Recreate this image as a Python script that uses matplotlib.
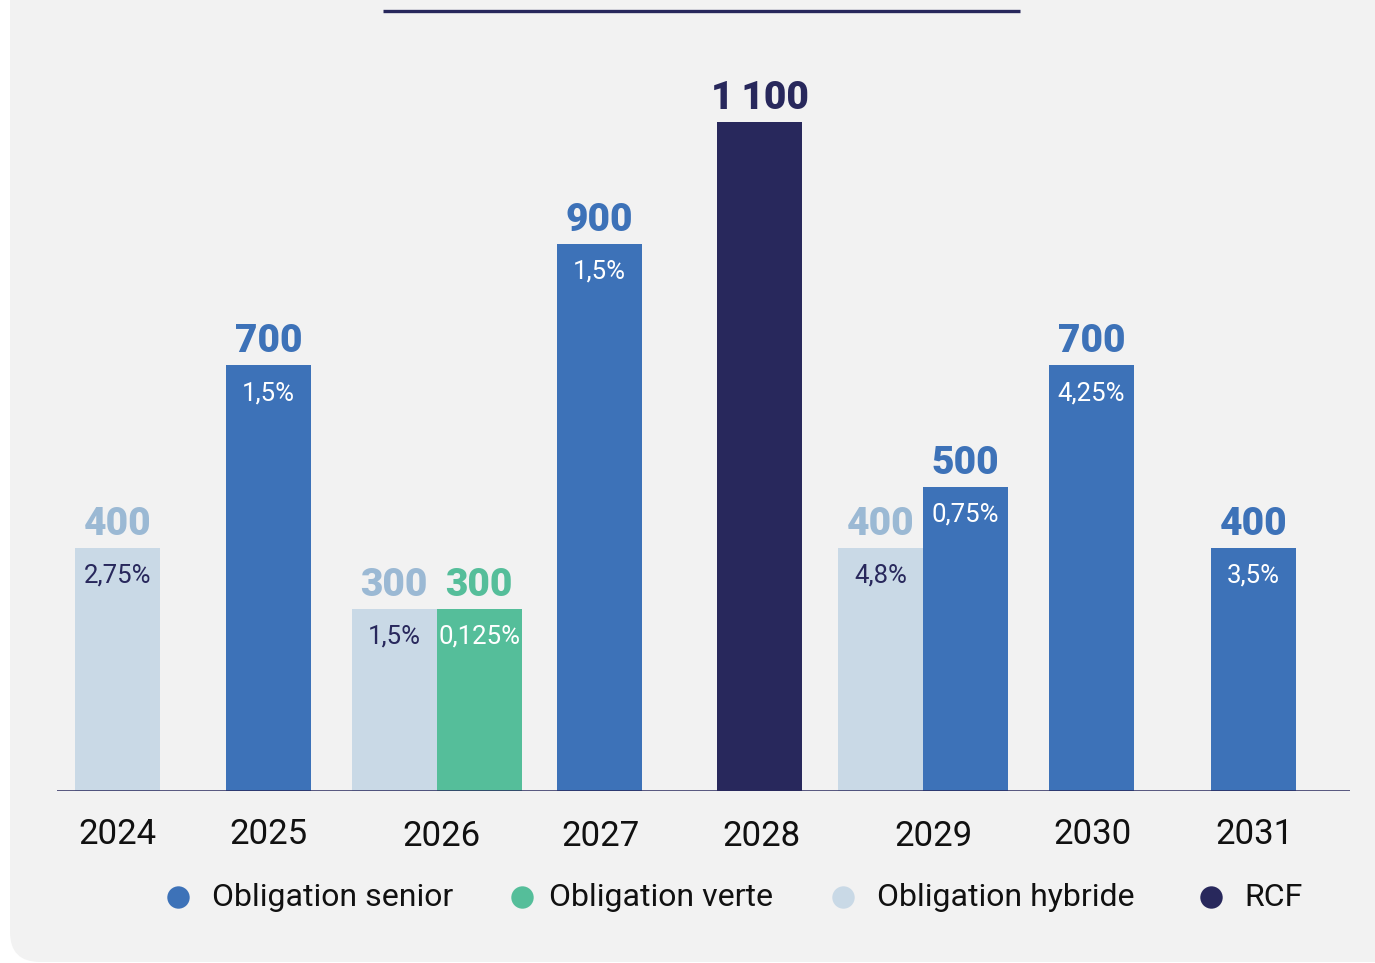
import matplotlib.pyplot as plt
from matplotlib.patches import FancyBboxPatch

# data (millions d'euros) by maturity year
years = ['2024', '2025', '2026', '2027', '2028', '2029', '2030', '2031']
hybride = [400, 0, 300, 0, 0, 400, 0, 0]
senior = [0, 700, 0, 900, 0, 500, 700, 400]
verte = [0, 0, 300, 0, 0, 0, 0, 0]
rcf = [0, 0, 0, 0, 1100, 0, 0, 0]
hybride_rate = ['2,75%', '', '1,5%', '', '', '4,8%', '', '']
senior_rate = ['', '1,5%', '', '1,5%', '', '0,75%', '4,25%', '3,5%']
verte_rate = ['', '', '0,125%', '', '', '', '', '']
rcf_rate = ['', '', '', '', '', '', '', '']
legend_labels = ['Obligation senior', 'Obligation verte', 'Obligation hybride', 'RCF']

# colours
C_SENIOR = '#3d72b8'
C_VERTE = '#55be9a'
C_HYBRIDE = '#c9d9e6'
C_HYB_TXT = '#9bb9d4'
C_RCF = '#28285c'
BG = '#f2f2f2'

# layout (pixel positions)
W, H = 1375, 963
year_center = [117.5, 268.5, 436.5, 599.5, 759.5, 923, 1091.5, 1253.5]
year_label_x = [117, 268, 441, 601, 761, 933, 1093, 1254]
year_label_y = [834, 834, 837, 837, 837, 837, 835, 835]
bar_w = 85
base_px = 791
px_per_unit = 669 / 1100

font = ['Roboto', 'DejaVu Sans']

fig = plt.figure(figsize=(W / 100, H / 100), dpi=100)
fig.patch.set_facecolor('white')

# background panel + decorations, in pixel coords
bg = fig.add_axes([0, 0, 1, 1], zorder=0)
bg.set_xlim(0, W)
bg.set_ylim(H, 0)
bg.axis('off')
bg.add_patch(FancyBboxPatch((10, -100), W + 100, H + 100 - 1,
                            boxstyle='round,pad=0,rounding_size=30',
                            fc=BG, ec='none'))
bg.plot([383, 1020], [11, 11], color=C_RCF, lw=2.4, solid_capstyle='butt')

# main chart axes
top_px = base_px - 1200 * px_per_unit
ax = fig.add_axes([57 / W, (H - base_px) / H, (1350 - 57) / W, (base_px - top_px) / H], zorder=1)
ax.patch.set_alpha(0)
ax.set_xlim(57, 1350)
ax.set_ylim(0, 1200)
for s in ax.spines.values():
    s.set_visible(False)
ax.set_xticks([])
ax.set_yticks([])
ax.axhline(0, color=C_RCF, lw=1.8, zorder=3)

series = [
    (hybride, hybride_rate, C_HYBRIDE, C_HYB_TXT, C_RCF),
    (senior, senior_rate, C_SENIOR, C_SENIOR, 'white'),
    (verte, verte_rate, C_VERTE, C_VERTE, 'white'),
    (rcf, rcf_rate, C_RCF, C_RCF, 'white'),
]

for i, yr in enumerate(years):
    present = [s for s in series if s[0][i] > 0]
    n = len(present)
    for k, (vals, rates, col, txtcol, ratecol) in enumerate(present):
        x = year_center[i] + (k - (n - 1) / 2) * bar_w
        v = vals[i]
        ax.bar(x, v, width=bar_w, color=col, zorder=2)
        lbl = f'{v:,}'.replace(',', '\u2009')
        ax.annotate(lbl, (x, v), xytext=(0, 5), textcoords='offset pixels',
                    ha='center', va='bottom', fontsize=28, fontweight=900,
                    family=font, color=txtcol)
        if rates[i]:
            ax.annotate(rates[i], (x, v), xytext=(0, -28), textcoords='offset pixels',
                        ha='center', va='center', fontsize=18.5, family=font,
                        color=ratecol)

# year labels
for i, yr in enumerate(years):
    bg.text(year_label_x[i], year_label_y[i], yr, ha='center', va='center',
            fontsize=25, family=font, color='#111111')

# legend
leg_colors = [C_SENIOR, C_VERTE, C_HYBRIDE, C_RCF]
leg_marker_x = [178, 522, 843, 1211]
leg_text_x = [212, 549, 877, 1244]
for lab, col, mx, tx in zip(legend_labels, leg_colors, leg_marker_x, leg_text_x):
    bg.scatter([mx], [897], s=260, color=col, marker='o', linewidths=0)
    bg.text(tx, 897, lab, ha='left', va='center', fontsize=23, family=font,
            color='#111111')

fig.savefig('out.png', dpi=100, facecolor='white')
